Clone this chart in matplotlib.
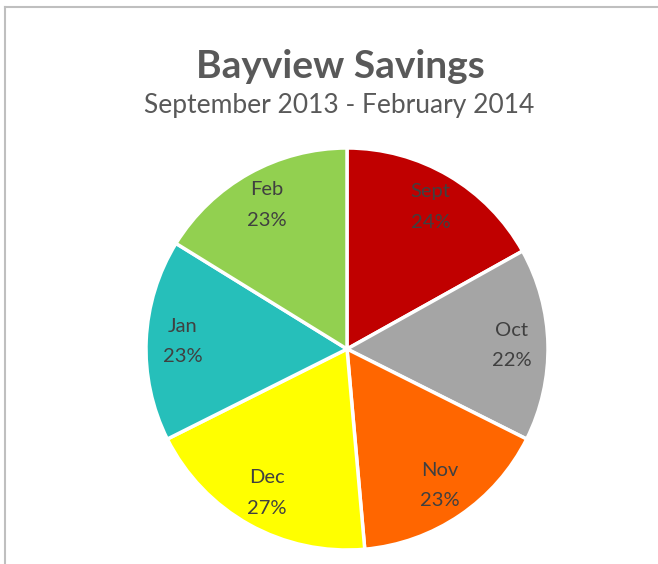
import matplotlib
matplotlib.use("Agg")
import matplotlib.pyplot as plt
from matplotlib.lines import Line2D

months = ["Sept", "Oct", "Nov", "Dec", "Jan", "Feb"]
savings = [24, 22, 23, 27, 23, 23]
colors = ["#C00000", "#A5A5A5", "#FF6600", "#FFFF00", "#26BFBA", "#92D050"]

TEXT = "#595959"
LABEL = "#404040"

plt.rcParams["font.family"] = ["Lato", "DejaVu Sans"]

fig = plt.figure(figsize=(6.58, 5.64), dpi=100)
fig.patch.set_facecolor("white")

# outer chart border (only the top and left edges are visible)
fig.add_artist(Line2D([4.5 / 658, 4.5 / 658], [0, 1 - 6.5 / 564], color="#BFBFBF", linewidth=1.5))
fig.add_artist(Line2D([4.5 / 658, 1], [1 - 6.5 / 564, 1 - 6.5 / 564], color="#BFBFBF", linewidth=1.5))

# pie centred near (347, 349) px with radius ~201 px
ax = fig.add_axes([146 / 658, 14 / 564, 402 / 658, 402 / 564])
wedges, texts = ax.pie(
    savings,
    colors=colors,
    startangle=90,
    counterclock=False,
    labels=[f"{m}\n{v}%" for m, v in zip(months, savings)],
    labeldistance=0.82,
    wedgeprops={"edgecolor": "white", "linewidth": 2.5},
    textprops={"fontsize": 14.5, "color": LABEL, "ha": "center", "va": "center", "linespacing": 1.95},
)
for t in texts:
    t.set_horizontalalignment("center")
ax.set_xlim(-1.0, 1.0)
ax.set_ylim(-1.0, 1.0)
ax.set_aspect("equal")
ax.axis("off")

fig.text(340 / 658, 1 - 66 / 564, "Bayview Savings", ha="center", va="center",
         fontsize=28, fontweight="bold", color=TEXT)
fig.text(339 / 658, 1 - 106 / 564, "September 2013 - February 2014", ha="center", va="center",
         fontsize=19, color=TEXT)

fig.savefig("out.png", dpi=100)
